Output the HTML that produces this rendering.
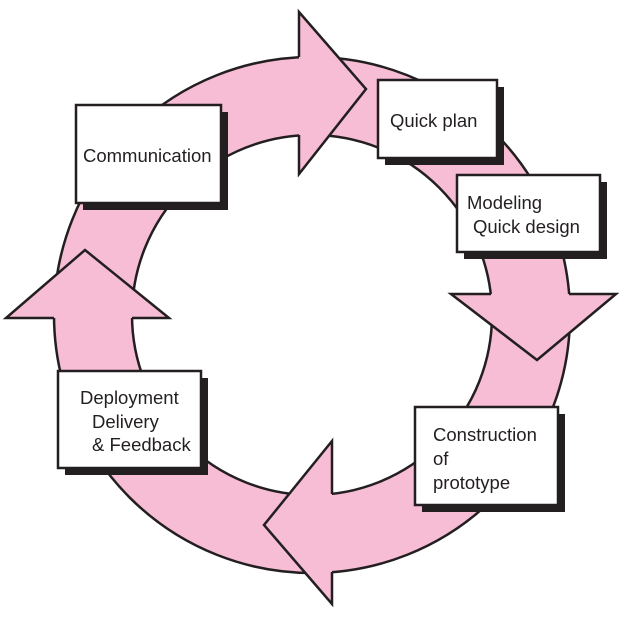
<!DOCTYPE html>
<html><head><meta charset="utf-8"><style>
body{margin:0;background:#fff;}
svg{display:block;}
text{font-family:"Liberation Sans",sans-serif;font-size:18.5px;fill:#231f20;}
</style></head><body>
<svg width="628" height="633" viewBox="0 0 628 633">
<path d="M54,315a258,258 0 1,0 516,0a258,258 0 1,0 -516,0ZM132,315a180,180 0 1,0 360,0a180,180 0 1,0 -360,0Z" fill="#f6bdd4" fill-rule="evenodd"/>
<circle cx="312" cy="315" r="258" fill="none" stroke="#231f20" stroke-width="2.5"/>
<circle cx="312" cy="315" r="180" fill="none" stroke="#231f20" stroke-width="2.5"/>
<g fill="#f6bdd4" stroke="none">
<polygon points="299,12 366,89 299,174"/>
<polygon points="451,294 616,294 537,360"/>
<polygon points="332,441 264,525 332,604"/>
<polygon points="6,318 85,250 169,318"/>
</g>
<g fill="none" stroke="#231f20" stroke-width="2.5">
<polyline points="299,57 299,12 366,89 299,174 299,135"/>
<polyline points="491,294 451,294 537,360 616,294 569,294"/>
<polyline points="332,494 332,441 264,525 332,604 332,572"/>
<polyline points="54,318 6,318 85,250 169,318 132,318"/>
</g>
<g>
<rect x="83" y="112" width="145" height="98" fill="#231f20"/>
<rect x="76" y="105" width="145" height="98" fill="#fff" stroke="#231f20" stroke-width="2.5"/>
<rect x="385" y="87" width="119" height="78" fill="#231f20"/>
<rect x="378" y="80" width="119" height="78" fill="#fff" stroke="#231f20" stroke-width="2.5"/>
<rect x="464" y="182" width="143" height="77" fill="#231f20"/>
<rect x="457" y="175" width="143" height="77" fill="#fff" stroke="#231f20" stroke-width="2.5"/>
<rect x="422" y="414" width="143" height="98" fill="#231f20"/>
<rect x="415" y="407" width="143" height="98" fill="#fff" stroke="#231f20" stroke-width="2.5"/>
<rect x="65" y="378" width="143" height="97" fill="#231f20"/>
<rect x="58" y="371" width="143" height="97" fill="#fff" stroke="#231f20" stroke-width="2.5"/>
</g>
<text x="83" y="162">Communication</text>
<text x="390" y="127">Quick plan</text>
<text x="467" y="209">Modeling</text>
<text x="473" y="233">Quick design</text>
<text x="433" y="441">Construction</text>
<text x="433" y="465">of</text>
<text x="433" y="489">prototype</text>
<text x="80" y="404">Deployment</text>
<text x="92" y="428">Delivery</text>
<text x="92" y="451">&amp; Feedback</text>
</svg>
</body></html>
